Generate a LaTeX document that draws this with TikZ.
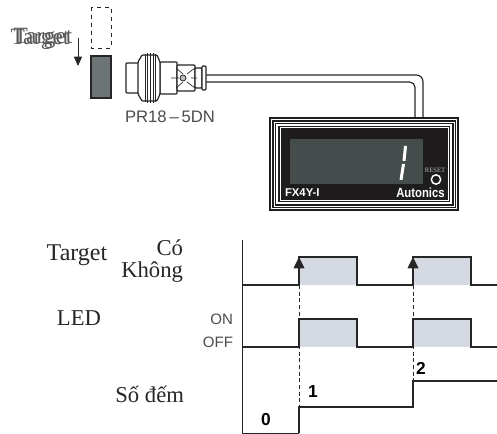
\documentclass[tikz,border=0pt]{standalone}
\usepackage{fontspec}
\setmainfont{Liberation Serif}
\setsansfont{Liberation Sans}
\usepackage{xcolor}
\definecolor{tgray}{RGB}{108,116,118}
\definecolor{lcdgray}{RGB}{68,76,76}
\definecolor{pulsefill}{RGB}{213,217,226}
\definecolor{inkblack}{RGB}{30,28,28}
\usetikzlibrary{arrows.meta,positioning,calc}

\begin{document}
\begin{tikzpicture}[
  x=0.75pt,y=-0.75pt,
  every node/.style={inner sep=0pt,outer sep=0pt},
  serifnode/.style={font=\fontsize{17}{17}\selectfont,text=black!85},
  toptarget/.style={font=\fontsize{17.5}{18}\selectfont,text=black!65},
  levelnode/.style={font=\sffamily\fontsize{11.3}{12}\selectfont,text=black!70,anchor=east},
  countnode/.style={font=\sffamily\bfseries\fontsize{13}{13}\selectfont},
  frameline/.style={draw=white,line width=0.6pt},
  part/.style={draw=black!85,line width=0.9pt,fill=white,rounded corners=0.8pt},
  signal/.style={line width=1.5pt,black!85,line join=miter},
  guide/.style={densely dashed,line width=0.6pt,black!85},
  arr/.style={-{Triangle[length=8.5pt,width=8pt]},line width=1.1pt,black!85},
]
  \useasboundingbox (0,0) rectangle (497,434);

  % Target
  \node[toptarget] (targettop) at (40,39) {Target};
  \node[toptarget] (targettopb) at (43,38) {Target};
  \draw[dashed,line width=0.7pt,black!85] (91,7) rectangle (111,48);
  \draw[line width=0.9pt,black!85,fill=tgray] (91,56) rectangle (111,98);
  \coordinate (movetop) at (78,38);
  \coordinate (movebot) at (78,66);
  \draw[-{Triangle[length=7pt,width=6pt]},line width=0.7pt,black!85] (movetop) -- (movebot);

  % Cable
  \draw[line width=0.9pt,black!85,rounded corners=5pt] (206,75) -- (423,75) -- (423,117);
  \draw[line width=0.9pt,black!85,rounded corners=4pt] (206,82) -- (415,82) -- (415,117);

  % Sensor
  \draw[part] (126,63) rectangle (139,93);
  \draw[part] (160,62) rectangle (177,94);
  \draw[part] (177,65) rectangle (195,91);
  \draw[part] (195,68) rectangle (202,88);
  \draw[part] (202,66) rectangle (206,90);
  \draw[part] (138,62) -- (142,55) -- (157,55) -- (160,62) -- (160,94) -- (157,101) -- (142,101) -- (138,94) -- cycle;
  \draw[line width=0.6pt,black!85] (145,54) -- (145,102) (147,53) -- (147,103)
    (150,53) -- (150,103) (153,53) -- (153,103) (155,54) -- (155,102);
  \draw[line width=0.5pt,black!85] (176,68) -- (183,74) (195,68) -- (187,74)
    (176,88) -- (183,82) (195,88) -- (187,82) (171,78) -- (179,78) (191,78) -- (197,78);
  \draw[line width=0.6pt,black!85,fill=black!25] (183,78) circle (3);
  \node[font=\sffamily\fontsize{12.5}{13}\selectfont,text=black!70] (sensorname) at (170,117) {PR18\,–\,5DN};

  % Counter housing
  \fill[inkblack] (269,117) rectangle (459,211);
  \draw[frameline] (271.5,119.5) rectangle (456.5,208.5);
  \draw[frameline] (274,122) rectangle (454,206);
  \draw[frameline,line width=0.9pt] (277,125) rectangle (451,203);
  \draw[frameline] (280,127.5) rectangle (448,200.5);
  \fill[lcdgray] (290,139) rectangle (423,184);
  \fill[white] (404,146) -- (407,146) -- (405.5,161) -- (402.5,161) -- cycle;
  \fill[white] (402,164) -- (405,164) -- (402.5,180) -- (399.5,180) -- cycle;
  \node[font=\fontsize{5}{5}\selectfont,text=white!75!black] (resetname) at (435,170) {RESET};
  \node[draw=white,line width=1.1pt,circle,minimum size=7pt] (resetbtn) at (436,179.5) {};
  \node[font=\sffamily\bfseries\fontsize{8.5}{9}\selectfont,text=white,anchor=west] (modelname) at (285,192.5) {FX4Y-I};
  \node[font=\sffamily\bfseries\fontsize{10}{10}\selectfont,text=white,xscale=0.85] (brandname) at (420.5,193) {Autonics};

  % Row labels
  \node[serifnode,font=\fontsize{18}{18}\selectfont] (rowtarget) at (77,255) {Target};
  \node[serifnode,anchor=east] (rowco) at (183,248) {Có};
  \node[serifnode,anchor=east] (rowkhong) at (183,272.5) {Không};
  \node[serifnode] (rowled) at (79,318) {LED};
  \node[serifnode,anchor=east] (rowcount) at (184,394) {Số đếm};
  \node[levelnode] (levelon) at (233,319) {ON};
  \node[levelnode] (leveloff) at (233,342) {OFF};

  % Pulse fills
  \fill[pulsefill] (299,257) rectangle (357,285);
  \fill[pulsefill] (413,257) rectangle (471,285);
  \fill[pulsefill] (299,319) rectangle (357,347);
  \fill[pulsefill] (413,319) rectangle (471,347);

  % Axes
  \draw[line width=0.7pt,black!85] (242,240) -- (242,433) -- (299,433);

  % Signals
  \draw[signal] (242,285) -- (299,285) -- (299,257) -- (357,257) -- (357,285)
    -- (413,285) -- (413,257) -- (471,257) -- (471,285) -- (497,285);
  \draw[signal] (242,347) -- (299,347) -- (299,319) -- (357,319) -- (357,347)
    -- (413,347) -- (413,319) -- (471,319) -- (471,347) -- (497,347);
  \draw[signal] (299,433) -- (299,407) -- (413,407) -- (413,381) -- (497,381);

  % Trigger arrows
  \draw[arr] (299,275) -- (299,257);
  \draw[arr] (413,275) -- (413,257);
  \draw[guide] (299,285) -- (299,407);
  \draw[guide] (413,285) -- (413,381);

  % Counts
  \node[countnode] (countzero) at (266,420) {0};
  \node[countnode] (countone) at (313,392) {1};
  \node[countnode] (counttwo) at (421,368) {2};
\end{tikzpicture}
\end{document}
